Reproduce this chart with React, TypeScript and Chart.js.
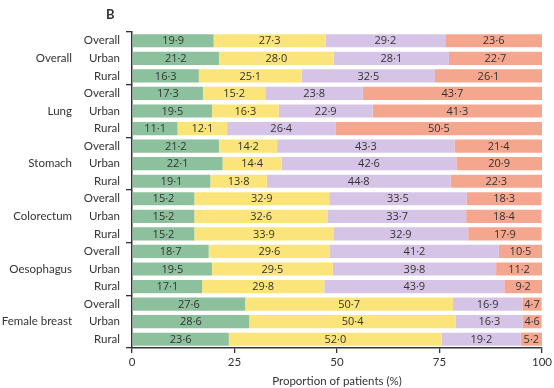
import React, { useEffect, useRef } from 'react';
import { Chart, registerables } from 'chart.js';

Chart.register(...registerables);

const panelLabel = 'B';
const groups = ['Overall', 'Lung', 'Stomach', 'Colorectum', 'Oesophagus', 'Female breast'];
const subgroups = ['Overall', 'Urban', 'Rural'];
const rowLabels = groups.flatMap(() => subgroups);

const seg1 = [19.9, 21.2, 16.3, 17.3, 19.5, 11.1, 21.2, 22.1, 19.1, 15.2, 15.2, 15.2, 18.7, 19.5, 17.1, 27.6, 28.6, 23.6];
const seg2 = [27.3, 28.0, 25.1, 15.2, 16.3, 12.1, 14.2, 14.4, 13.8, 32.9, 32.6, 33.9, 29.6, 29.5, 29.8, 50.7, 50.4, 52.0];
const seg3 = [29.2, 28.1, 32.5, 23.8, 22.9, 26.4, 43.3, 42.6, 44.8, 33.5, 33.7, 32.9, 41.2, 39.8, 43.9, 16.9, 16.3, 19.2];
const seg4 = [23.6, 22.7, 26.1, 43.7, 41.3, 50.5, 21.4, 20.9, 22.3, 18.3, 18.4, 17.9, 10.5, 11.2, 9.2, 4.7, 4.6, 5.2];
const segColors = ['#8dc09c', '#fbe57a', '#d6c4e6', '#f4a78e'];
const xMin = 0;
const xMax = 100;
const xStep = 25;
const xTitle = 'Proportion of patients (%)';

const FONT = "Lato, 'Open Sans', sans-serif";
const NUMFONT = "'Open Sans', Lato, sans-serif";
const TEXT = '#333333';

const fmt = (v: number) => v.toFixed(1).replace('.', '\u00b7');

const labelsPlugin = {
  id: 'customLabels',
  afterDatasetsDraw(chart: any) {
    const ctx = chart.ctx;
    ctx.save();
    ctx.font = `11px ${NUMFONT}`;
    ctx.fillStyle = TEXT;
    ctx.textAlign = 'center';
    ctx.textBaseline = 'middle';
    chart.data.datasets.forEach((ds: any, di: number) => {
      const meta = chart.getDatasetMeta(di);
      meta.data.forEach((el: any, i: number) => {
        const { x, base, y } = el.getProps(['x', 'base', 'y'], true);
        ctx.fillText(fmt(ds.data[i]), (x + base) / 2, y + 0.5);
      });
    });
    // group labels
    ctx.font = `11.5px ${FONT}`;
    const yScale = chart.scales.y;
    ctx.textAlign = 'right';
    groups.forEach((g, gi) => {
      const yp = yScale.getPixelForValue(gi * 3 + 1);
      ctx.fillText(g, 72, yp);
    });
    // panel label
    ctx.font = `bold 13px ${FONT}`;
    ctx.textAlign = 'left';
    ctx.fillText(panelLabel, 106, 15);
    ctx.restore();
  },
};

export default function App() {
  const ref = useRef<HTMLCanvasElement | null>(null);
  useEffect(() => {
    document.body.style.margin = '0';
    if (!ref.current) return;
    const chart = new Chart(ref.current, {
      type: 'bar',
      data: {
        labels: rowLabels,
        datasets: [seg1, seg2, seg3, seg4].map((d, i) => ({
          data: d,
          backgroundColor: segColors[i],
          borderWidth: 0,
          barPercentage: 0.75,
          categoryPercentage: 1,
        })),
      },
      options: {
        indexAxis: 'y',
        responsive: false,
        animation: false,
        devicePixelRatio: 1,
        layout: { padding: { top: 32, right: 10, left: 0, bottom: 0 } },
        plugins: { legend: { display: false }, tooltip: { enabled: false } },
        scales: {
          x: {
            stacked: true,
            min: xMin,
            max: xMax,
            afterFit: (s: any) => { s.height = 40; },
            ticks: { stepSize: xStep, color: TEXT, font: { family: FONT, size: 11.5 }, padding: 2 },
            grid: { drawOnChartArea: false, drawTicks: true, tickLength: 5, color: TEXT, lineWidth: 1.3 },
            border: { display: true, color: TEXT, width: 1.5 },
            title: { display: true, text: xTitle, color: TEXT, font: { family: FONT, size: 11.5 }, padding: { top: 3, bottom: 0 } },
          },
          y: {
            stacked: true,
            afterFit: (s: any) => { s.width = 132; },
            ticks: { color: TEXT, font: { family: FONT, size: 11.5 }, padding: 6, autoSkip: false },
            grid: {
              offset: true,
              drawOnChartArea: false,
              drawTicks: true,
              tickLength: 6,
              lineWidth: 1.3,
              color: (c: any) => (c.index === undefined || c.index % 3 === 0 ? TEXT : 'rgba(0,0,0,0)'),
            },
            border: { display: true, color: TEXT, width: 1.5 },
          },
        },
      },
      plugins: [labelsPlugin],
    });
    return () => chart.destroy();
  }, []);
  return (
    <div style={{ width: 554, height: 388 }}>
      <canvas ref={ref} width={554} height={388} style={{ display: 'block' }} />
    </div>
  );
}
